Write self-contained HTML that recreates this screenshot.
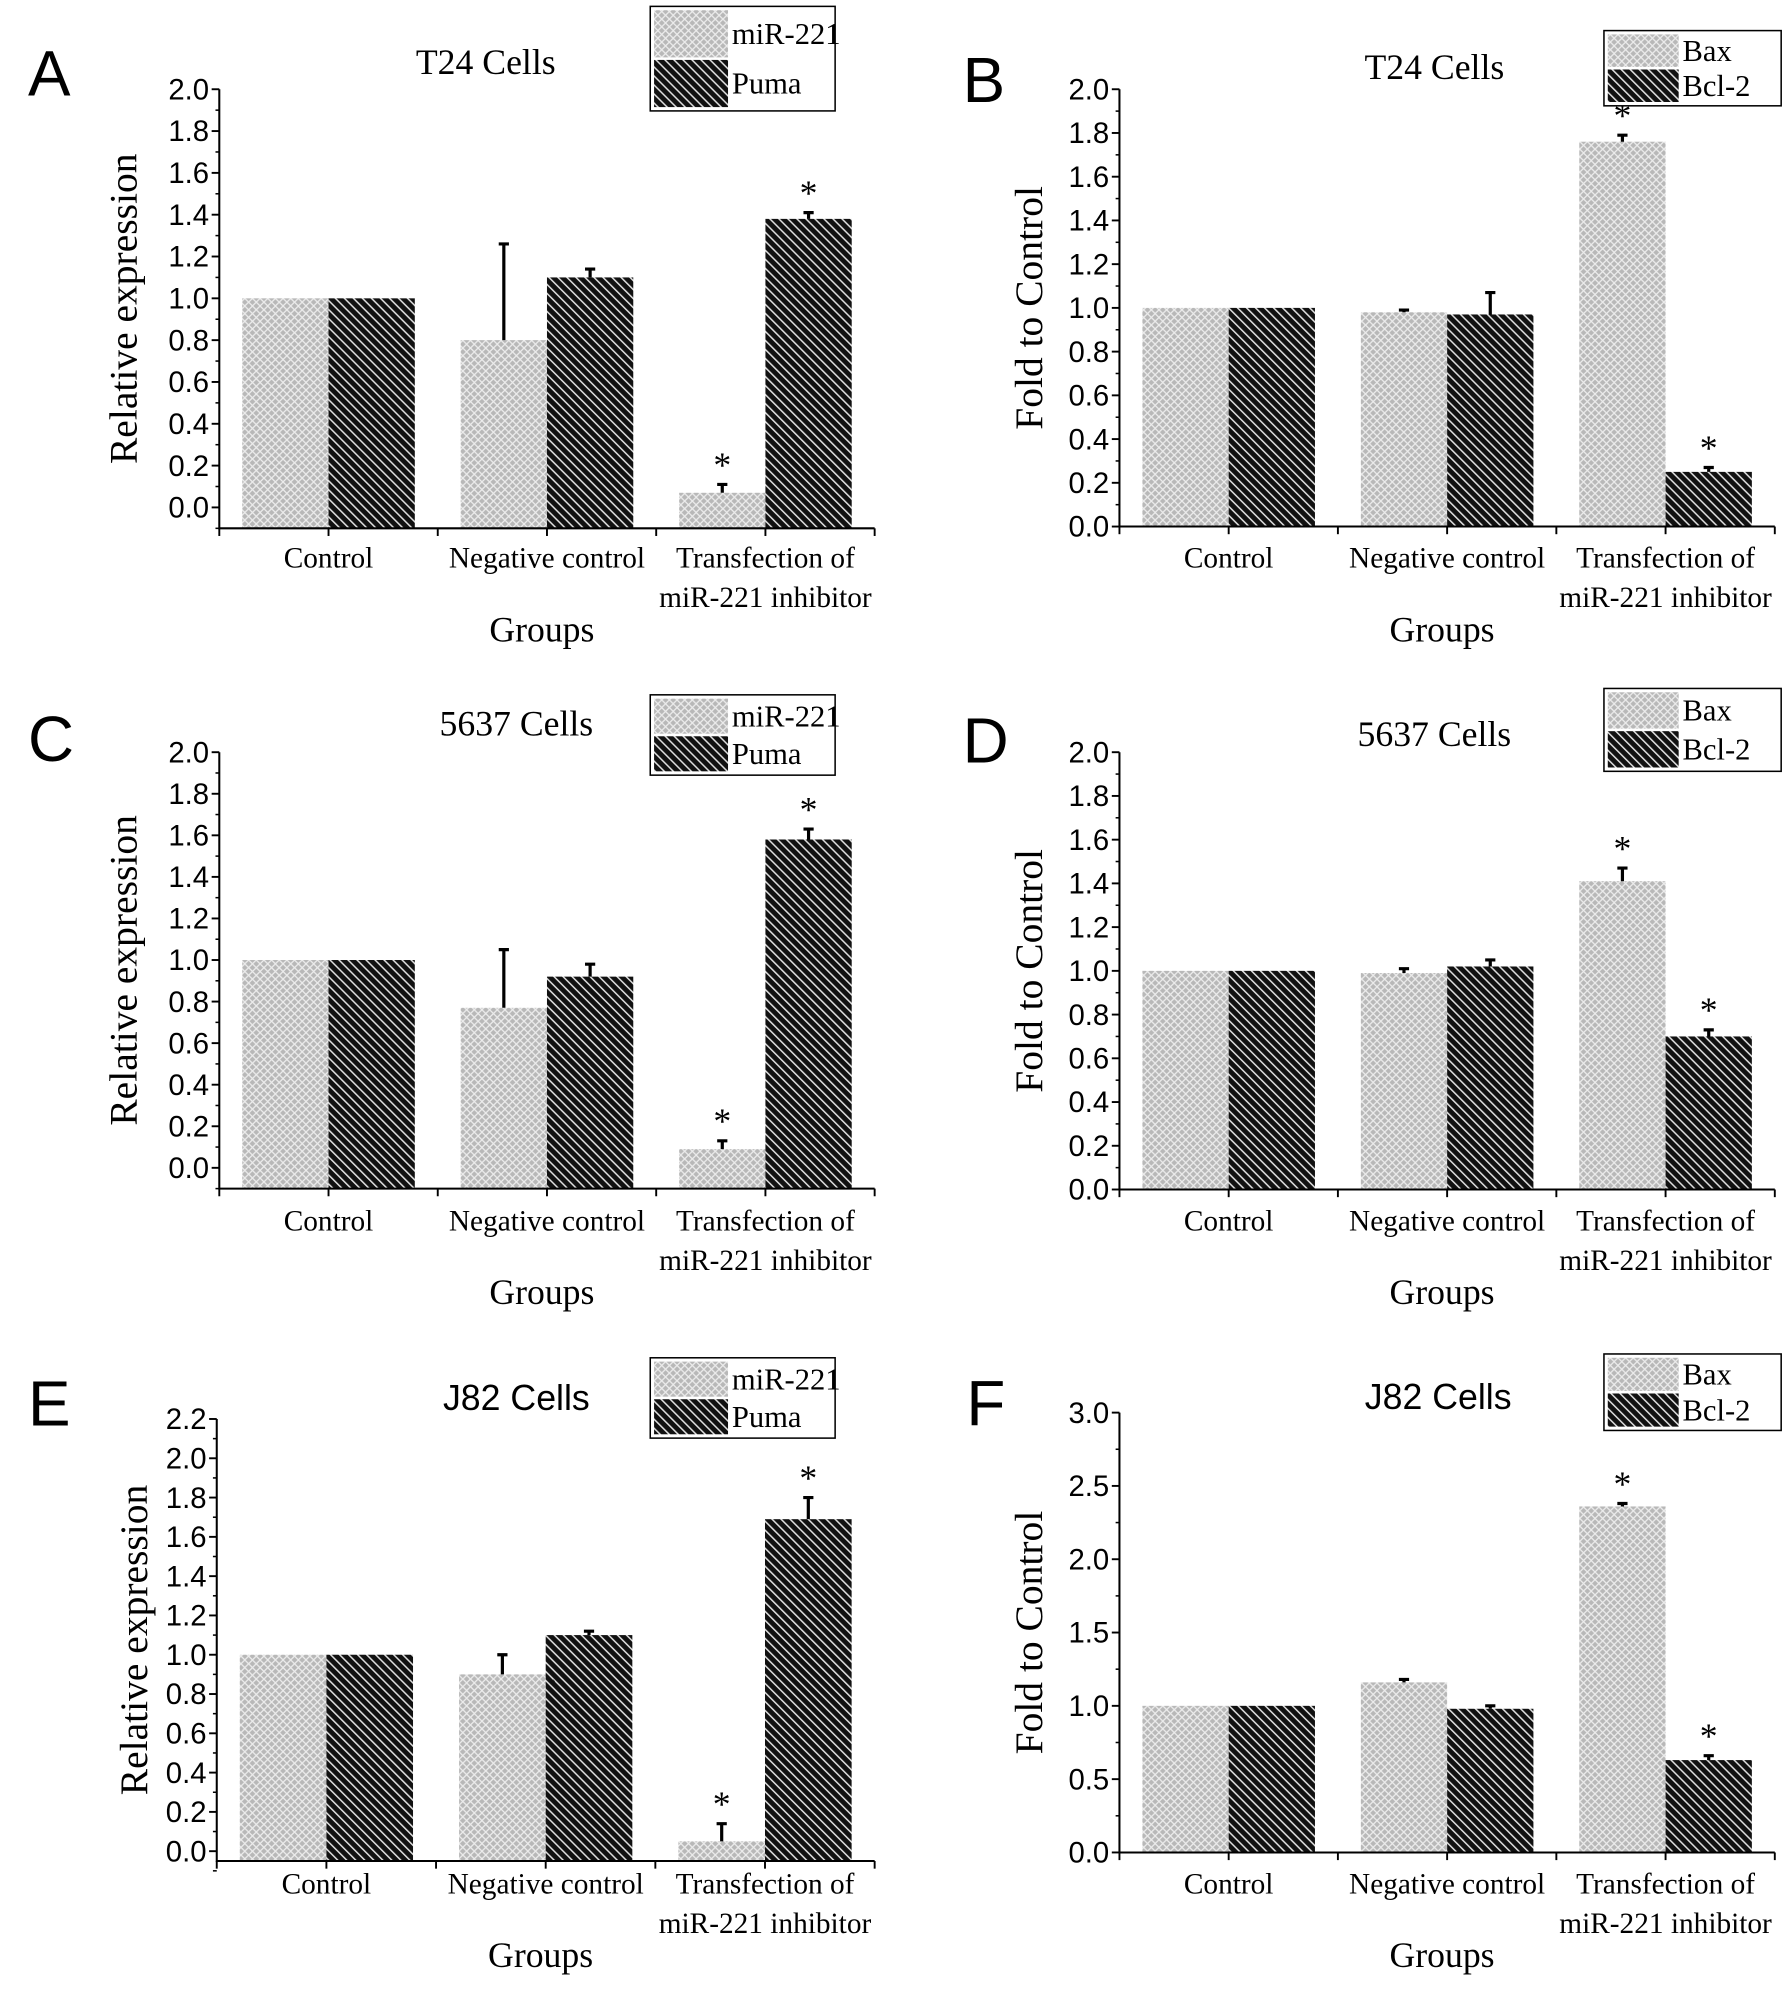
<!DOCTYPE html>
<html><head><meta charset="utf-8"><style>
html,body{margin:0;padding:0;background:#fff;}
svg{display:block;}
.tick{font-family:"Liberation Sans",sans-serif;font-size:23px;fill:#000;}
.serif{font-family:"Liberation Serif",serif;fill:#000;}
</style></head><body>
<svg id="fig" width="1785" height="2008" viewBox="0 0 1400 1575" preserveAspectRatio="none" xmlns="http://www.w3.org/2000/svg">
<defs>
<pattern id="pLight" patternUnits="userSpaceOnUse" width="6" height="6">
<rect width="6" height="6" fill="#b8b8b8"/>
<path d="M0,0 L6,6 M6,0 L0,6" stroke="#ececec" stroke-width="1"/>
</pattern>
<pattern id="pDark" patternUnits="userSpaceOnUse" width="5" height="5" patternTransform="rotate(-45)">
<rect width="5" height="5" fill="#111"/>
<rect x="0" y="0" width="1.2" height="5" fill="#ddd"/>
</pattern>
</defs>
<g id="root"></g>
</svg>
<script>
const categories = ["Control", "Negative control", "Transfection of|miR-221 inhibitor"];
const aSeries1 = [1.0, 0.80, 0.07], aErr1 = [0, 0.46, 0.04];
const aSeries2 = [1.0, 1.10, 1.38], aErr2 = [0, 0.04, 0.03];
const bSeries1 = [1.0, 0.98, 1.76], bErr1 = [0, 0.01, 0.03];
const bSeries2 = [1.0, 0.97, 0.25], bErr2 = [0, 0.10, 0.02];
const cSeries1 = [1.0, 0.77, 0.09], cErr1 = [0, 0.28, 0.04];
const cSeries2 = [1.0, 0.92, 1.58], cErr2 = [0, 0.06, 0.05];
const dSeries1 = [1.0, 0.99, 1.41], dErr1 = [0, 0.02, 0.06];
const dSeries2 = [1.0, 1.02, 0.70], dErr2 = [0, 0.03, 0.03];
const eSeries1 = [1.0, 0.90, 0.05], eErr1 = [0, 0.10, 0.09];
const eSeries2 = [1.0, 1.10, 1.69], eErr2 = [0, 0.02, 0.11];
const fSeries1 = [1.0, 1.16, 2.36], fErr1 = [0, 0.02, 0.02];
const fSeries2 = [1.0, 0.98, 0.63], fErr2 = [0, 0.02, 0.03];
const leftLegend = ["miR-221", "Puma"];
const rightLegend = ["Bax", "Bcl-2"];
const ticks02 = [0.0,0.2,0.4,0.6,0.8,1.0,1.2,1.4,1.6,1.8,2.0];
const ticks22 = [0.0,0.2,0.4,0.6,0.8,1.0,1.2,1.4,1.6,1.8,2.0,2.2];
const ticks30 = [0.0,0.5,1.0,1.5,2.0,2.5,3.0];
const starsA = [false,false,true];

const NS = "http://www.w3.org/2000/svg";
const root = document.getElementById("root");
function mk(tag, attrs, parent){ const e=document.createElementNS(NS,tag); for(const k in attrs) e.setAttribute(k,attrs[k]); (parent||root).appendChild(e); return e; }

const panels = [
 {id:"a",letter:"A",lx:22,ly:75,title:"T24 Cells",tx:381,ty:58,tSans:false,x0:172,x1:686,min:-0.1,max:2.0,y0:398,yTop:70,ticks:ticks02,minor:0.1,dec:1,s1:aSeries1,e1:aErr1,s2:aSeries2,e2:aErr2,ylab:"Relative expression",ylx:100,leg:leftLegend,lgx:510,lgy:5,lgw:145,lgh:82,catY:445},
 {id:"b",letter:"B",lx:755,ly:80,title:"T24 Cells",tx:1125,ty:62,tSans:false,x0:878,x1:1392,min:0,max:2.0,y0:413,yTop:70,ticks:ticks02,minor:0.1,dec:1,s1:bSeries1,e1:bErr1,s2:bSeries2,e2:bErr2,ylab:"Fold to Control",ylx:810,leg:rightLegend,lgx:1258,lgy:24,lgw:139,lgh:59,catY:445},
 {id:"c",letter:"C",lx:22,ly:597,title:"5637 Cells",tx:405,ty:577,tSans:false,x0:172,x1:686,min:-0.1,max:2.0,y0:916,yTop:590,ticks:ticks02,minor:0.1,dec:1,s1:cSeries1,e1:cErr1,s2:cSeries2,e2:cErr2,ylab:"Relative expression",ylx:100,leg:leftLegend,lgx:510,lgy:545,lgw:145,lgh:63,catY:965},
 {id:"d",letter:"D",lx:755,ly:598,title:"5637 Cells",tx:1125,ty:585,tSans:false,x0:878,x1:1392,min:0,max:2.0,y0:933,yTop:590,ticks:ticks02,minor:0.1,dec:1,s1:dSeries1,e1:dErr1,s2:dSeries2,e2:dErr2,ylab:"Fold to Control",ylx:810,leg:rightLegend,lgx:1258,lgy:540,lgw:139,lgh:65,catY:965},
 {id:"e",letter:"E",lx:22,ly:1118,title:"J82 Cells",tx:405,ty:1106,tSans:true,x0:170,x1:686,min:-0.05,max:2.2,y0:1452,yTop:1113,ticks:ticks22,minor:0.1,dec:1,s1:eSeries1,e1:eErr1,s2:eSeries2,e2:eErr2,ylab:"Relative expression",ylx:108,leg:leftLegend,lgx:510,lgy:1065,lgw:145,lgh:63,catY:1485},
 {id:"f",letter:"F",lx:758,ly:1118,title:"J82 Cells",tx:1128,ty:1105,tSans:true,x0:878,x1:1392,min:0,max:3.0,y0:1453,yTop:1108,ticks:ticks30,minor:0.25,dec:1,s1:fSeries1,e1:fErr1,s2:fSeries2,e2:fErr2,ylab:"Fold to Control",ylx:810,leg:rightLegend,lgx:1258,lgy:1062,lgw:139,lgh:60,catY:1485}
];

panels.forEach(p=>{
  const g = mk("g",{});
  
  
  const topVal = p.ticks[p.ticks.length-1];
  const unit = (p.y0 - p.yTop)/topVal;
  const yS = v => p.y0 - v*unit;
  const band = (p.x1-p.x0)/3;
  const xC = i => p.x0 + band*(i+0.5);
  const bw = band*0.395;
  const yBot = yS(p.min);

  const L = mk("text",{x:p.lx,y:p.ly,"font-family":"Liberation Sans, sans-serif","font-size":50},g); L.textContent=p.letter;
  
  

  const T = mk("text",{x:p.tx,y:p.ty,"text-anchor":"middle","font-size":28,"font-family":p.tSans?"Liberation Sans, sans-serif":"Liberation Serif, serif"},g); T.textContent=p.title;
  
  

  [[p.s1,p.e1,"url(#pLight)",-1],[p.s2,p.e2,"url(#pDark)",0]].forEach((sr,si)=>{
    sr[0].forEach((v,i)=>{
      const x = xC(i) + sr[3]*bw;
      const r = mk("rect",{x:x,y:yS(v),width:bw,height:yBot-yS(v),fill:sr[2]},g);
      
      
      const e = sr[1][i];
      if(e>0){
        const cx = x+bw/2, yt=yS(v+e);
        const eb = mk("path",{d:`M${cx},${yS(v)} L${cx},${yt} M${cx-4},${yt} L${cx+4},${yt}`,stroke:"#000","stroke-width":2.5,fill:"none"},g);
        
        
      }
      if(starsA[i]){
        const st = mk("text",{x:x+bw/2,y:yS(v+e)-6,"text-anchor":"middle","font-size":28,"class":"serif"},g); st.textContent="*";
        
        
      }
    });
  });

  const ax = mk("path",{d:`M${p.x0},${yS(topVal)} L${p.x0},${yBot} L${p.x1},${yBot}`,stroke:"#000","stroke-width":1.6,fill:"none"},g);
  
  
  p.ticks.forEach(t=>{
    const y=yS(t);
    mk("line",{x1:p.x0-6,x2:p.x0,y1:y,y2:y,stroke:"#000","stroke-width":1.5},g);
    const tl = mk("text",{x:p.x0-8,y:y+8,"text-anchor":"end","class":"tick"},g); tl.textContent=t.toFixed(p.dec);
    
    
    const m=t+p.minor;
    if(m<topVal) mk("line",{x1:p.x0-3,x2:p.x0,y1:yS(m),y2:yS(m),stroke:"#000","stroke-width":1.2},g);
  });
  if(p.min<0) mk("line",{x1:p.x0-3,x2:p.x0,y1:yS(-p.minor),y2:yS(-p.minor),stroke:"#000","stroke-width":1.2},g);
  for(let i=0;i<=3;i++){ const x=p.x0+band*i; mk("line",{x1:x,x2:x,y1:yBot,y2:yBot+6,stroke:"#000","stroke-width":1.5},g); }
  for(let i=0;i<3;i++){ const x=xC(i); mk("line",{x1:x,x2:x,y1:yBot,y2:yBot+6,stroke:"#000","stroke-width":1.5},g); }

  categories.forEach((c,i)=>{
    c.split("|").forEach((ln,k)=>{
      const t = mk("text",{x:xC(i),y:p.catY+k*31,"text-anchor":"middle","font-size":23,"class":"serif"},g); t.textContent=ln;
      
      
    });
  });
  const gx = mk("text",{x:(p.x0+p.x1)/2-4,y:p.catY+58,"text-anchor":"middle","font-size":28,"class":"serif"},g); gx.textContent="Groups";
  
  
  const ymid=(yS(topVal)+yBot)/2;
  const yl = mk("text",{x:p.ylx,y:ymid,"text-anchor":"middle","font-size":31,"class":"serif",transform:`rotate(-90 ${p.ylx} ${ymid})`,"dominant-baseline":"middle"},g); yl.textContent=p.ylab;
  
  

  const lg = mk("g",{},g);
  
  
  mk("rect",{x:p.lgx,y:p.lgy,width:p.lgw,height:p.lgh,fill:"#fff",stroke:"#000","stroke-width":1.2},lg);
  const rh=(p.lgh-8)/2;
  p.leg.forEach((nm,k)=>{
    const ry=p.lgy+3+k*(rh+2);
    const sw = mk("rect",{x:p.lgx+3,y:ry,width:p.lgw*0.4,height:rh,fill:k?"url(#pDark)":"url(#pLight)"},lg);
    
    
    const lt = mk("text",{x:p.lgx+p.lgw*0.4+6,y:ry+rh/2+8,"font-size":24,"class":"serif"},lg); lt.textContent=nm;
    
    
  });
});
</script>
</body></html>
